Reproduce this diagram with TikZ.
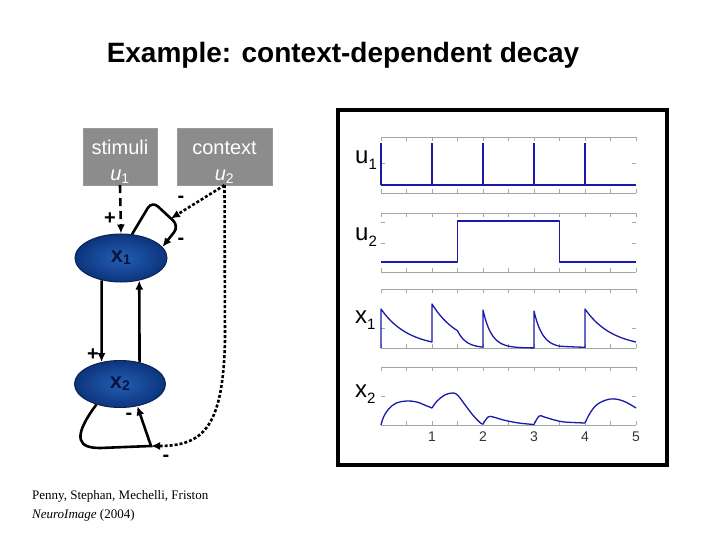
\documentclass[tikz,border=0pt]{standalone}
\usepackage{fontspec}
\setmainfont{Liberation Sans}
\newfontfamily\citefont{Liberation Serif}
\usetikzlibrary{shapes.geometric, arrows.meta, positioning, calc}

\definecolor{boxgray}{RGB}{140,140,140}
\definecolor{nodeblue}{RGB}{35,95,180}
\definecolor{nodedark}{RGB}{12,52,125}
\definecolor{nodeedge}{RGB}{8,35,90}
\definecolor{labnavy}{RGB}{10,20,60}
\definecolor{datblue}{RGB}{25,25,170}

\tikzset{
  %% Input box (stimuli / context)
  inbox/.style={
    rectangle, draw=black!40, fill=boxgray, text=white,
    minimum width=74pt, minimum height=57pt, align=center,
    font=\fontsize{20}{26}\selectfont, inner sep=0pt
  },
  %% Hidden state node
  xstate/.style={
    ellipse, draw=nodeedge, line width=1pt,
    shading=radial, inner color=nodeblue, outer color=nodedark,
    minimum width=92pt, minimum height=48pt, text=labnavy,
    font=\fontsize{22}{22}\selectfont\bfseries, inner sep=0pt
  },
  %% Connectors
  arr/.style={-{Latex[length=9pt,width=8pt]}, line width=2.6pt},
  dasharr/.style={arr, dash pattern=on 8pt off 5pt},
  dotarr/.style={arr, dash pattern=on 3pt off 2pt},
  %% Sign labels
  sgn/.style={font=\fontsize{20}{20}\selectfont\bfseries, inner sep=0pt},
  %% Plot parts
  dat/.style={draw=datblue, line width=1.3pt, line join=round},
  axln/.style={draw=black!35, line width=0.8pt},
  plab/.style={anchor=west, font=\fontsize{24}{24}\selectfont, inner sep=0pt},
  tlab/.style={font=\fontsize{14}{14}\selectfont, text=black!80, inner sep=0pt},
}

\begin{document}
\begin{tikzpicture}[x=1pt, y=-1pt]
  \useasboundingbox (0,0) rectangle (720,540);

  %% Title
  \node[font=\fontsize{28}{28}\selectfont\bfseries] (title) at (343,55)
       {Example: context-dependent decay};

  %% Inputs
  \node[inbox] (stim) at (120,156.5)
       {\rule{0pt}{25pt}stimuli\\\textit{u}\textsubscript{1}};
  \node[inbox, minimum width=95pt] (ctx) at (224.5,156.5)
       {\rule{0pt}{25pt}context\\\textit{u}\textsubscript{2}};

  %% States
  \node[xstate] (xa) at (121,258)
       {x\raisebox{-2pt}{\fontsize{14}{14}\selectfont 1}};
  \node[xstate, minimum width=91pt, minimum height=47pt] (xb) at (120,384)
       {x\raisebox{-2pt}{\fontsize{14}{14}\selectfont 2}};

  %% Stimulus input
  \draw[dasharr] (stim.south) -- (xa.north);

  %% Self-decay of x1
  \coordinate (la1) at (152,201);
  \coordinate (la2) at (179,226);
  \draw[arr, rounded corners=8pt] (xa.65) -- (la1) -- (la2) -- (xa.15);
  \path (la1) -- (la2) coordinate[pos=0.7] (lb);

  %% Coupling x1 <-> x2
  \draw[arr] (xa.-131) -- (xb.130);
  \draw[arr] (xb.48) -- (xa.-51);

  %% Self-decay of x2
  \coordinate (lc) at (151,446);
  \draw[arr] (xb.-139) .. controls (70,440) and (80,448) .. (100,448)
       -- (lc) -- (xb.-52);

  %% Context modulation
  \draw[dotarr] (ctx.south) -- (lb);
  \draw[dotarr] (ctx.south) -- (225,340)
       .. controls (223,425) and (205,446) .. (lc);

  %% Signs
  \node[sgn] (s1) at (110,219) {+};
  \node[sgn] (s2) at (181,199) {-};
  \node[sgn] (s3) at (181,241) {-};
  \node[sgn] (s4) at (93,355)  {+};
  \node[sgn] (s5) at (129,416) {-};
  \node[sgn] (s6) at (166,458) {-};

  %% Time courses panel
  \draw[line width=3.5pt] (338,110) rectangle (667,465);

  \foreach \yt/\yb in {137/193, 213/272, 289/348, 367/425} {
    \draw[axln] (381,\yt) -- (636,\yt);
    \draw[axln] (381,\yb) -- (636,\yb);
    \foreach \k in {0,...,10} {
      \draw[axln] ({381+25.5*\k},\yt) -- ++(0,4);
      \draw[axln] ({381+25.5*\k},\yb) -- ++(0,-4);
    }
  }
  \foreach \ym in {163, 222, 243, 328, 396} {
    \draw[axln] (381,\ym) -- ++(4,0);
    \draw[axln] (636,\ym) -- ++(-4,0);
  }

  %% u1: stimulus spikes
  \begin{scope}[shift={(381,185)}, xscale=51, yscale=-1]
    \draw[dat] (0,0) -- (5,0);
    \foreach \t in {0,...,4} {
      \draw[dat] (\t,0) -- (\t,42);
      \draw[dat, line width=2.4pt] (\t,0) -- (\t,10);
    }
  \end{scope}

  %% u2: context
  \begin{scope}[shift={(381,262)}, xscale=51, yscale=-1]
    \draw[dat] (0,0) -- (1.5,0) -- (1.5,41) -- (3.5,41) -- (3.5,0) -- (5,0);
  \end{scope}

  %% x1
  \begin{scope}[shift={(381,348)}, xscale=51, yscale=-1]
    \draw[dat] (0,0) -- (0,39)
      -- plot[domain=0:1, samples=30] (\x,{39*exp(-1.87*\x)})
      -- (1,44)
      -- plot[domain=1:1.5, samples=20] (\x,{44*exp(-1.87*(\x-1))})
      -- plot[domain=1.5:2, samples=20] (\x,{17.3*exp(-6*(\x-1.5))})
      -- (2,38)
      -- plot[domain=2:3, samples=30] (\x,{38*exp(-6*(\x-2))})
      -- (3,37)
      -- plot[domain=3:3.5, samples=20] (\x,{37*exp(-6*(\x-3))})
      -- plot[domain=3.5:4, samples=10] (\x,{1.84*exp(-1.87*(\x-3.5))})
      -- (4,39)
      -- plot[domain=4:5, samples=30] (\x,{39*exp(-1.87*(\x-4))});
  \end{scope}

  %% x2
  \begin{scope}[shift={(381,425)}, xscale=51, yscale=-1]
    \draw[dat] plot[smooth, tension=0.6] coordinates
      {(0,0) (0.05,8) (0.15,16) (0.3,22) (0.5,24) (0.7,23) (0.9,19) (1,17)};
    \draw[dat] plot[smooth, tension=0.6] coordinates
      {(1,17) (1.1,24) (1.25,30) (1.4,32) (1.5,30) (1.65,20) (1.8,10) (1.95,2) (2,1)};
    \draw[dat] plot[smooth, tension=0.6] coordinates
      {(2,1) (2.1,8) (2.2,8) (2.4,5) (2.7,2) (3,0.5)};
    \draw[dat] plot[smooth, tension=0.6] coordinates
      {(3,0.5) (3.1,9) (3.2,8) (3.4,5) (3.6,3) (4,2)};
    \draw[dat] plot[smooth, tension=0.6] coordinates
      {(4,2) (4.1,12) (4.25,21) (4.5,26) (4.75,24) (5,17)};
  \end{scope}

  %% Plot labels
  \node[plab] (lu1) at (355,160)
       {u\raisebox{-6pt}{\fontsize{15}{15}\selectfont 1}};
  \node[plab] (lu2) at (355,237)
       {u\raisebox{-6pt}{\fontsize{15}{15}\selectfont 2}};
  \node[plab] (lx1) at (355,320)
       {x\raisebox{-6pt}{\fontsize{15}{15}\selectfont 1}};
  \node[plab] (lx2) at (355,394)
       {x\raisebox{-6pt}{\fontsize{15}{15}\selectfont 2}};

  %% Time axis
  \foreach \k in {1,...,5} {
    \node[tlab] (t\k) at ({381+51*\k},437) {\k};
  }

  %% Reference
  \node[anchor=west, inner sep=0pt, font=\citefont\fontsize{13}{13}\selectfont]
       (cite1) at (32,496) {Penny, Stephan, Mechelli, Friston};
  \node[anchor=west, inner sep=0pt, font=\citefont\fontsize{13}{13}\selectfont]
       (cite2) at (32,515) {\textit{NeuroImage} (2004)};

\end{tikzpicture}
\end{document}
